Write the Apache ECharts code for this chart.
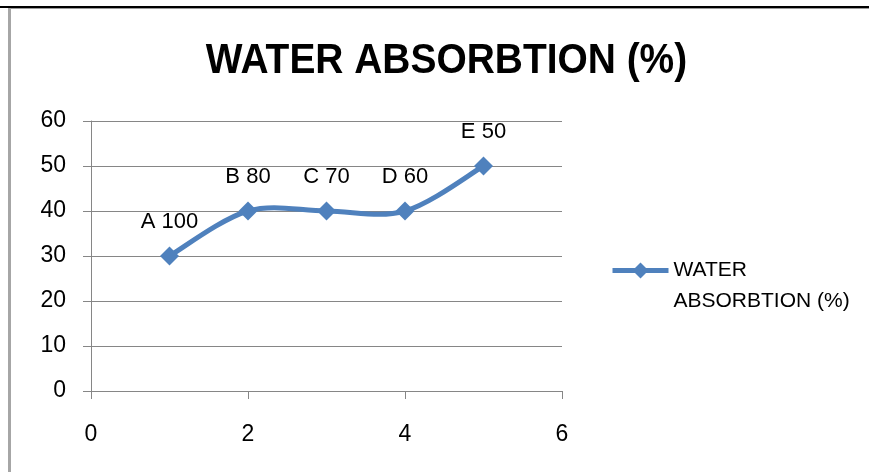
<!DOCTYPE html>
<html>
<head>
<meta charset="utf-8">
<script src="https://cdn.jsdelivr.net/npm/echarts@6/dist/echarts.min.js"></script>
<style>
  html, body { margin: 0; padding: 0; background: #fff; }
  #chart { width: 869px; height: 472px; }
</style>
</head>
<body>
<div id="chart"></div>
<script>
// Sample positions and measured water absorption
const xValues = [1, 2, 3, 4, 5];
const absorption = [30, 40, 40, 40, 50];
const pointLabels = ['A 100', 'B 80', 'C 70', 'D 60', 'E 50'];
const seriesName = 'WATER ABSORBTION (%)';
const chartTitle = 'WATER ABSORBTION (%)';

const baseFont = '"Liberation Sans", Arial, sans-serif';
const blue = '#4F81BD';
const gridGray = '#868686';

const points = xValues.map((x, i) => [x, absorption[i]]);

// Smoothed connector (cardinal spline through the points, in pixel space)
function renderSmoothLine(params, api) {
  if (params.dataIndex !== 0) return null;
  const p = points.map(d => api.coord(d));
  const children = [];
  for (let i = 0; i < p.length - 1; i++) {
    const p0 = p[Math.max(i - 1, 0)];
    const p1 = p[i];
    const p2 = p[i + 1];
    const p3 = p[Math.min(i + 2, p.length - 1)];
    children.push({
      type: 'bezierCurve',
      shape: {
        x1: p1[0], y1: p1[1],
        x2: p2[0], y2: p2[1],
        cpx1: p1[0] + (p2[0] - p0[0]) / 6,
        cpy1: p1[1] + (p2[1] - p0[1]) / 6,
        cpx2: p2[0] - (p3[0] - p1[0]) / 6,
        cpy2: p2[1] - (p3[1] - p1[1]) / 6
      },
      style: { stroke: blue, lineWidth: 5, fill: null, lineCap: 'round' }
    });
  }
  return { type: 'group', children: children };
}

const chart = echarts.init(document.getElementById('chart'), null, { renderer: 'canvas' });

chart.setOption({
  animation: false,
  backgroundColor: '#ffffff',
  grid: { left: 91, right: 307, top: 121, bottom: 81, containLabel: false },
  xAxis: {
    type: 'value',
    min: 0,
    max: 6,
    interval: 2,
    axisLine: { show: true, lineStyle: { color: gridGray, width: 1 } },
    axisTick: { show: true, length: 8, lineStyle: { color: gridGray } },
    axisLabel: { fontFamily: baseFont, fontSize: 23, color: '#000', margin: 32 },
    splitLine: { show: false }
  },
  yAxis: {
    type: 'value',
    min: 0,
    max: 60,
    interval: 10,
    axisLine: { show: true, lineStyle: { color: gridGray, width: 1 } },
    axisTick: { show: true, length: 8, lineStyle: { color: gridGray } },
    axisLabel: { fontFamily: baseFont, fontSize: 23, color: '#000', margin: 25 },
    splitLine: { show: true, lineStyle: { color: gridGray, width: 1 } }
  },
  legend: {
    show: true,
    left: 610,
    top: 224,
    padding: 0,
    orient: 'vertical',
    itemWidth: 56,
    itemHeight: 20,
    data: [{
      name: seriesName,
      lineStyle: { color: blue, width: 5, opacity: 1 },
      itemStyle: { color: blue }
    }],
    formatter: function () { return '\nWATER\nABSORBTION (%)'; },
    textStyle: {
      fontFamily: baseFont,
      fontSize: 21,
      color: '#000',
      lineHeight: 31
    }
  },
  series: [
    {
      name: 'smooth-connector',
      type: 'custom',
      silent: true,
      z: 2,
      data: points,
      encode: { x: 0, y: 1 },
      renderItem: renderSmoothLine
    },
    {
      name: seriesName,
      type: 'line',
      z: 3,
      data: points,
      symbol: 'diamond',
      symbolSize: 19,
      lineStyle: { color: blue, width: 5, opacity: 0 },
      itemStyle: { color: blue },
      label: {
        show: true,
        position: 'top',
        distance: 14,
        fontFamily: baseFont,
        fontSize: 22,
        color: '#000',
        formatter: p => pointLabels[p.dataIndex]
      }
    }
  ],
  graphic: [
    { type: 'rect', shape: { x: 0, y: 6, width: 869, height: 2 }, style: { fill: '#000' } },
    { type: 'rect', shape: { x: 8, y: 8, width: 861, height: 1 }, style: { fill: '#9a9a9a' } },
    { type: 'rect', shape: { x: 8, y: 8, width: 3, height: 464 }, style: { fill: '#a6a6a6' } },
    {
      type: 'text',
      x: 446.5,
      y: 61,
      scaleX: 0.905,
      style: {
        text: chartTitle,
        x: 0,
        y: 0,
        align: 'center',
        verticalAlign: 'middle',
        font: 'bold 43px "Liberation Sans", Arial, sans-serif',
        fill: '#000'
      }
    }
  ]
});
</script>
</body>
</html>
